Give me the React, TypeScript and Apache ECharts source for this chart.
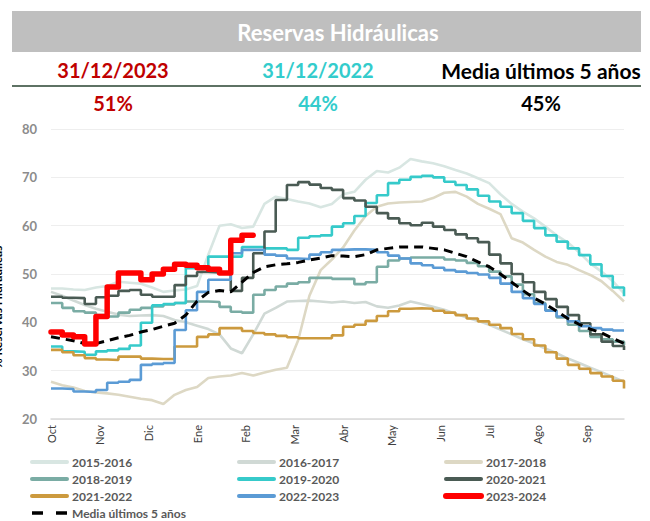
import React, { useEffect, useRef } from "react";
import * as echarts from "echarts";

const months = ["Oct", "Nov", "Dic", "Ene", "Feb", "Mar", "Abr", "May", "Jun", "Jul", "Ago", "Sep"];

const y2015 = [47.0, 47.0, 46.8, 46.7, 47.2, 47.5, 48.4, 48.2, 48.0, 47.2, 46.3, 46.6, 46.8, 47.5, 54.0, 60.0, 60.3, 59.5, 59.8, 64.5, 66.0, 65.5, 65.0, 64.6, 63.8, 64.5, 66.5, 67.0, 69.5, 71.3, 71.0, 72.0, 73.8, 73.3, 72.9, 72.3, 71.5, 70.8, 69.8, 68.8, 66.5, 64.5, 62.9, 61.5, 59.8, 58.0, 56.5, 54.5, 52.2, 50.5, 48.5, 46.0];
const y2016 = [46.3, 45.5, 44.5, 43.6, 42.8, 42.2, 41.6, 41.3, 41.4, 41.5, 41.3, 40.5, 40.0, 39.3, 38.6, 37.5, 34.6, 33.6, 37.5, 41.8, 43.0, 44.3, 44.4, 44.5, 44.3, 44.1, 44.3, 44.0, 44.2, 43.3, 43.0, 43.5, 44.3, 43.8, 43.2, 42.6, 41.8, 41.0, 40.3, 39.5, 38.5, 37.5, 36.5, 35.6, 34.6, 33.6, 32.5, 31.6, 30.6, 29.7, 28.7, 27.7];
const y2017 = [27.7, 27.0, 26.5, 25.8, 25.5, 25.3, 25.0, 24.6, 24.2, 23.9, 23.1, 25.0, 26.0, 26.6, 28.5, 28.8, 29.0, 29.5, 29.0, 29.6, 30.2, 30.6, 36.3, 45.5, 50.8, 53.0, 55.5, 59.0, 62.0, 63.9, 64.6, 64.8, 64.9, 65.0, 65.7, 66.8, 67.0, 66.0, 64.5, 63.5, 62.4, 57.4, 56.5, 55.0, 53.6, 52.5, 51.9, 50.8, 49.8, 48.5, 46.5, 44.3];
const y2018 = [44.0, 43.0, 42.3, 42.0, 41.5, 41.2, 42.0, 42.6, 43.0, 43.3, 43.7, 44.0, 44.3, 44.3, 44.2, 43.2, 42.2, 42.0, 45.7, 46.7, 47.4, 48.0, 48.3, 49.2, 49.2, 49.0, 49.0, 47.9, 48.3, 51.5, 52.8, 53.2, 53.4, 53.4, 53.4, 53.0, 52.8, 52.3, 51.6, 50.5, 49.5, 47.8, 45.8, 44.0, 42.5, 41.0, 39.5, 38.2, 37.0, 36.5, 36.0, 35.3];
const y2019 = [35.0, 34.0, 33.9, 33.3, 34.0, 34.2, 34.5, 35.2, 39.9, 43.5, 43.8, 44.0, 51.2, 51.5, 53.6, 53.6, 53.6, 55.6, 55.6, 55.3, 55.3, 55.0, 57.5, 57.8, 58.0, 59.8, 60.5, 62.0, 64.7, 66.3, 68.8, 69.5, 70.1, 70.3, 70.0, 69.1, 68.4, 67.5, 66.2, 65.0, 63.9, 62.6, 61.0, 59.5, 58.0, 56.7, 55.3, 53.9, 52.0, 49.6, 47.2, 45.4];
const y2020 = [45.3, 45.1, 45.0, 43.8, 45.2, 45.5, 46.5, 46.7, 45.7, 45.3, 45.3, 47.7, 49.6, 50.4, 50.3, 50.2, 46.5, 49.2, 54.3, 58.8, 65.3, 68.4, 69.0, 68.5, 67.8, 67.4, 65.7, 65.2, 63.9, 62.6, 61.5, 60.5, 60.1, 60.6, 59.8, 59.1, 58.2, 57.4, 56.6, 54.0, 52.2, 50.0, 48.3, 46.3, 44.8, 43.2, 41.5, 39.8, 37.5, 36.0, 35.1, 34.3];
const y2021 = [34.3, 33.8, 33.2, 32.6, 32.3, 32.2, 32.9, 32.9, 32.5, 32.4, 32.4, 35.0, 35.0, 37.0, 37.5, 38.8, 38.8, 38.2, 37.8, 37.5, 37.2, 36.9, 36.7, 36.7, 36.7, 37.3, 39.1, 39.5, 40.3, 41.3, 42.3, 42.8, 42.9, 42.8, 42.4, 42.0, 41.5, 40.8, 40.2, 39.5, 38.8, 37.6, 36.5, 35.2, 33.8, 32.5, 31.2, 30.4, 29.5, 28.8, 27.9, 26.3];
const y2022 = [26.3, 26.2, 25.7, 25.6, 26.0, 27.5, 27.7, 28.1, 31.2, 31.4, 31.6, 38.4, 42.5, 46.3, 48.8, 48.8, 54.3, 55.0, 55.0, 54.0, 53.8, 53.2, 53.1, 54.0, 54.5, 55.0, 55.1, 55.1, 55.0, 54.5, 53.8, 53.2, 52.2, 51.8, 51.3, 50.8, 50.5, 50.2, 49.9, 49.2, 48.0, 46.3, 45.0, 43.8, 42.4, 41.2, 40.2, 39.2, 38.8, 38.5, 38.3, 38.2];
const y2023 = [38.0, 37.4, 37.0, 35.5, 41.2, 47.3, 50.2, 50.2, 48.8, 50.0, 51.0, 52.0, 51.8, 51.3, 51.0, 50.2, 57.0, 58.0, 58.0];
const yMedia = [37.0, 36.6, 36.2, 35.6, 35.6, 36.2, 36.8, 37.3, 38.0, 38.5, 39.2, 39.8, 41.5, 44.4, 46.2, 46.6, 46.3, 48.3, 50.3, 51.5, 51.9, 52.1, 52.4, 52.9, 53.3, 53.8, 53.7, 53.6, 54.0, 55.0, 55.3, 55.6, 55.6, 55.6, 55.3, 55.0, 54.3, 53.6, 52.5, 51.5, 50.0, 48.3, 46.6, 45.0, 43.8, 42.3, 40.8, 39.6, 38.6, 37.8, 36.7, 35.6];

const headerLabels = ["31/12/2023", "31/12/2022", "Media últimos 5 años"];
const headerValues = ["51%", "44%", "45%"];

export default function App() {
  const ref = useRef<HTMLDivElement>(null);
  useEffect(() => {
    document.body.style.margin = "0";
    const chart = echarts.init(ref.current!, null, { renderer: "svg" });
    const font = "Lato, 'Open Sans', sans-serif";
    const toData = (arr: number[]) => arr.map((v, i) => [i, v]);
    const mk = (name: string, arr: number[], color: string, step: boolean, extra: any = {}) => ({
      name,
      type: "line",
      data: toData(arr),
      symbol: "none",
      step: step ? "end" : false,
      lineStyle: { color, width: 2.6 },
      itemStyle: { color },
      ...extra,
    });
    const monthW = 52 / 12;
    const headerColors = ["#c00000", "#33cccc", "#000000"];
    const headerX = [113, 318, 541];
    const graphic: any[] = [
      { type: "rect", shape: { x: 12, y: 11, width: 629, height: 41 }, style: { fill: "#bfbfbf" } },
      {
        type: "text", x: 338, y: 32,
        style: { text: "Reservas Hidráulicas", font: `bold 22px ${font}`, fill: "#ffffff", align: "center", verticalAlign: "middle" },
      },
      { type: "line", shape: { x1: 12, y1: 86, x2: 641, y2: 86 }, style: { stroke: "#5e7264", lineWidth: 2 } },
      {
        type: "text", x: -3, y: 307, rotation: Math.PI / 2,
        style: { text: "% Reservas Hidráulicas", font: `bold 12px ${font}`, fill: "#000", align: "center", verticalAlign: "middle" },
      },
    ];
    headerLabels.forEach((t, i) => {
      graphic.push({
        type: "text", x: headerX[i], y: 70,
        style: { text: t, font: `bold ${i === 2 ? 21 : 20}px ${font}`, fill: headerColors[i], align: "center", verticalAlign: "middle" },
      });
      graphic.push({
        type: "text", x: headerX[i], y: 103,
        style: { text: headerValues[i], font: `bold 20px ${font}`, fill: headerColors[i], align: "center", verticalAlign: "middle" },
      });
    });
    const legendBase = {
      orient: "vertical",
      top: 456,
      height: 66,
      padding: 0,
      itemWidth: 35,
      itemHeight: 10,
      itemGap: 5,
      textStyle: { color: "#595959", fontWeight: "bold", fontSize: 12, fontFamily: font },
      lineStyle: { width: 4, cap: "round" },
      itemStyle: { opacity: 0 },
      selectedMode: false,
    };
    chart.setOption({
      animation: false,
      textStyle: { fontFamily: font },
      graphic,
      grid: { left: 51, right: 26, top: 129, bottom: 102 },
      legend: [
        { ...legendBase, left: 30, data: ["2015-2016", "2018-2019", "2021-2022", { name: "Media últimos 5 años", lineStyle: { width: 3.5, cap: "butt", type: [11, 13] } }] },
        { ...legendBase, left: 237, data: ["2016-2017", "2019-2020", "2022-2023"] },
        { ...legendBase, left: 443, data: ["2017-2018", "2020-2021", { name: "2023-2024", lineStyle: { width: 6 } }] },
      ],
      xAxis: {
        type: "value",
        min: 0,
        max: 51,
        interval: monthW,
        axisLine: { show: true, lineStyle: { color: "#d9d9d9", width: 1.5 } },
        axisTick: { show: false },
        splitLine: { show: false },
        axisLabel: {
          rotate: 90,
          margin: 6,
          fontSize: 11,
          color: "#404040",
          showMaxLabel: false,
          formatter: (v: number) => {
            const k = Math.round(v / monthW);
            return k < 12 && Math.abs(k * monthW - v) < 0.01 ? months[k] : "";
          },
        },
      },
      yAxis: {
        type: "value",
        min: 20,
        max: 80,
        interval: 10,
        axisLine: { show: false },
        axisTick: { show: false },
        splitLine: { lineStyle: { color: "#eeeeee", width: 1 } },
        axisLabel: { margin: 14, fontSize: 13, fontWeight: "bold", color: "#8c8c8c" },
      },
      series: [
        mk("2015-2016", y2015, "#d8e6e2", false),
        mk("2016-2017", y2016, "#d0d9d5", false),
        mk("2017-2018", y2017, "#ddd8c4", false),
        mk("2018-2019", y2018, "#7aaca4", true),
        mk("2019-2020", y2019, "#36caca", true),
        mk("2020-2021", y2020, "#4a5b54", true),
        mk("2021-2022", y2021, "#cc9a3e", true),
        mk("2022-2023", y2022, "#5b9bd5", true),
        mk("Media últimos 5 años", yMedia, "#000000", false, {
          lineStyle: { color: "#000000", width: 3, type: [9, 6] },
        }),
        mk("2023-2024", y2023, "#ff0000", true, {
          lineStyle: { color: "#ff0000", width: 5.5, cap: "round", join: "round" },
        }),
      ],
    });
    return () => chart.dispose();
  }, []);
  return <div ref={ref} style={{ width: 650, height: 521 }} />;
}
